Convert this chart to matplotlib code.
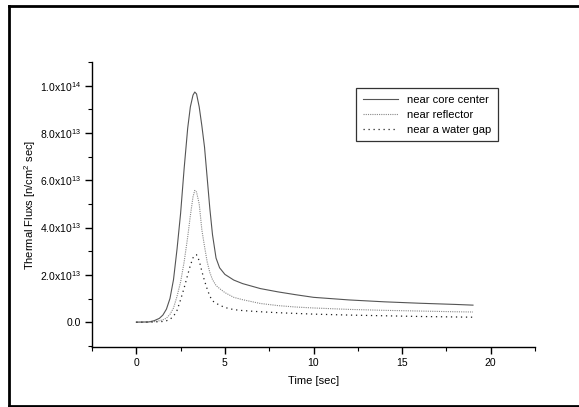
import numpy as np
import matplotlib
matplotlib.use("Agg")
import matplotlib.pyplot as plt
from matplotlib.lines import Line2D
from matplotlib.ticker import MultipleLocator, FixedLocator

plt.rcParams['font.family'] = ['Liberation Sans', 'DejaVu Sans']
plt.rcParams['mathtext.fontset'] = 'custom'
plt.rcParams['mathtext.rm'] = 'Liberation Sans'
plt.rcParams['mathtext.default'] = 'regular'

# tiempo [sec] y flujos en unidades de 1e13
time = [0, 0.7, 1.0, 1.3, 1.5, 1.7, 1.9, 2.1, 2.3, 2.5, 2.7, 2.9, 3.05, 3.2,
        3.3, 3.4, 3.55, 3.7, 3.85, 4.0, 4.15, 4.3, 4.5, 4.7, 5.0, 5.5, 6.0,
        7.0, 8.0, 9.0, 10, 12, 14, 16, 18, 19]
core = [0, 0.01, 0.06, 0.16, 0.3, 0.55, 1.0, 1.8, 3.1, 4.6, 6.5, 8.2, 9.1, 9.6,
        9.73, 9.65, 9.1, 8.3, 7.4, 6.1, 4.8, 3.7, 2.71, 2.3, 2.02, 1.78, 1.63,
        1.42, 1.28, 1.16, 1.05, 0.94, 0.86, 0.8, 0.75, 0.72]
reflector = [0, 0.005, 0.02, 0.06, 0.1, 0.17, 0.33, 0.6, 1.1, 1.7, 2.55, 3.6,
             4.5, 5.3, 5.57, 5.5, 5.0, 3.9, 3.2, 2.55, 2.1, 1.8, 1.55, 1.42,
             1.25, 1.05, 0.95, 0.79, 0.7, 0.64, 0.6, 0.54, 0.5, 0.47, 0.44, 0.43]
water_gap = [0, 0.002, 0.01, 0.02, 0.03, 0.06, 0.12, 0.25, 0.5, 0.95, 1.45,
             2.0, 2.4, 2.72, 2.83, 2.85, 2.6, 2.15, 1.75, 1.4, 1.1, 0.9, 0.8,
             0.72, 0.62, 0.53, 0.49, 0.44, 0.4, 0.37, 0.34, 0.3, 0.27, 0.24,
             0.22, 0.21]

ytick_vals = [0.0, 2e13, 4e13, 6e13, 8e13, 1e14]
ytick_labels = ['0.0', '2.0x10$^{13}$', '4.0x10$^{13}$', '6.0x10$^{13}$',
                '8.0x10$^{13}$', '1.0x10$^{14}$']
xtick_vals = [0, 5, 10, 15, 20]

scale = 1e13
core_y = np.array(core) * scale
refl_y = np.array(reflector) * scale
water_y = np.array(water_gap) * scale

fig = plt.figure(figsize=(5.79, 4.07), dpi=100)
ax = fig.add_axes([92 / 579, 1 - 347 / 407, (535 - 92) / 579, (347 - 62) / 407])

ax.plot(time, core_y, color='#555555', lw=0.8, ls='-', label='near core center')
ax.plot(time, refl_y, color='#888888', lw=0.8, ls=(0, (1, 1)), label='near reflector')
ax.plot(time, water_y, color='#222222', lw=0.9, ls=(0, (1, 3)), label='near a water gap')

ax.set_xlim(-2.5, 22.5)
ax.set_ylim(-1.05e13, 1.1e14)
ax.xaxis.set_major_locator(FixedLocator(xtick_vals))
ax.xaxis.set_minor_locator(MultipleLocator(2.5))
ax.yaxis.set_major_locator(FixedLocator(ytick_vals))
ax.set_yticklabels(ytick_labels)
ax.yaxis.set_minor_locator(MultipleLocator(1e13))

for s in ['top', 'right']:
    ax.spines[s].set_visible(False)
for s in ['left', 'bottom']:
    ax.spines[s].set_linewidth(1.0)
ax.tick_params(which='major', direction='out', length=5, width=1.0, labelsize=7.5, pad=3)
ax.tick_params(which='minor', direction='out', length=3, width=0.8)

ax.set_xlabel('Time [sec]', fontsize=8, labelpad=6)
ax.set_ylabel('Thermal Fluxs [n/cm$^2$ sec]', fontsize=8, labelpad=1)

leg = ax.legend(loc='upper left', bbox_to_anchor=(356 / 579, 1 - 88 / 407),
                bbox_transform=fig.transFigure, fontsize=8, frameon=True,
                fancybox=False, edgecolor='black', handlelength=3.2,
                borderpad=0.6, labelspacing=0.45, borderaxespad=0)
leg.get_frame().set_linewidth(0.9)

# marco exterior
fig.add_artist(Line2D([9 / 579, 9 / 579], [1 - 6 / 407, 1 - 405.5 / 407],
                      transform=fig.transFigure, color='black', lw=2))
fig.add_artist(Line2D([9 / 579, 1.0], [1 - 6 / 407, 1 - 6 / 407],
                      transform=fig.transFigure, color='black', lw=2))
fig.add_artist(Line2D([9 / 579, 1.0], [1 - 405.5 / 407, 1 - 405.5 / 407],
                      transform=fig.transFigure, color='black', lw=2))

fig.savefig('out.png', dpi=100)
